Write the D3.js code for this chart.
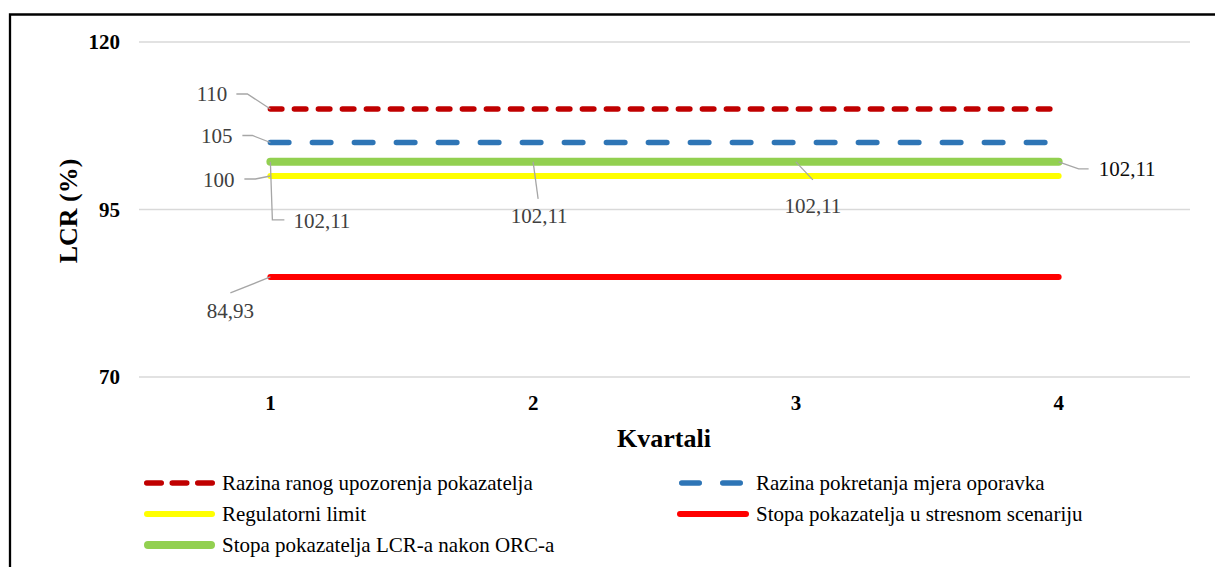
<!DOCTYPE html>
<html>
<head>
<meta charset="utf-8">
<script src="https://cdn.jsdelivr.net/npm/d3@7"></script>
</head>
<body style="margin:0">
<script>
const quarters = [1, 2, 3, 4];
const yTicks = [70, 95, 120];
const earlyWarning = [110, 110, 110, 110];
const recoveryTrigger = [105, 105, 105, 105];
const regulatoryLimit = [100, 100, 100, 100];
const stressRate = [84.93, 84.93, 84.93, 84.93];
const afterOrc = [102.11, 102.11, 102.11, 102.11];

const seriesNames = [
  "Razina ranog upozorenja pokazatelja",
  "Razina pokretanja mjera oporavka",
  "Regulatorni limit",
  "Stopa pokazatelja u stresnom scenariju",
  "Stopa pokazatelja LCR-a nakon ORC-a"
];

const width = 1215;
const height = 567;
const margin = { top: 42, right: 25, bottom: 190, left: 139 };
const fontName = "Liberation Serif";

const svg = d3.select("body").append("svg")
  .attr("width", width)
  .attr("height", height)
  .style("display", "block")
  .attr("font-family", fontName);

function addText(parent) {
  return parent.append("text").attr("font-family", fontName);
}

// outer frame (only left and top visible)
svg.append("path")
  .attr("d", `M10,${height} L10,14.5 L${width},14.5`)
  .attr("fill", "none")
  .attr("stroke", "#000")
  .attr("stroke-width", 2.3);

const x = d3.scaleBand()
  .domain(quarters)
  .range([margin.left, width - margin.right]);

const y = d3.scaleLinear()
  .domain([70, 120])
  .range([height - margin.bottom, margin.top]);

const cx = d => x(d) + x.bandwidth() / 2;

// gridlines
svg.append("g")
  .selectAll("line")
  .data(yTicks)
  .join("line")
  .attr("x1", margin.left)
  .attr("x2", width - margin.right)
  .attr("y1", d => y(d))
  .attr("y2", d => y(d))
  .attr("stroke", "#d9d9d9")
  .attr("stroke-width", 1.5);

// y tick labels
yTicks.forEach(t => {
  addText(svg)
    .attr("x", 120)
    .attr("y", y(t))
    .attr("dy", "0.34em")
    .attr("text-anchor", "end")
    .attr("font-size", 21)
    .attr("font-weight", "bold")
    .text(t);
});

// x tick labels
quarters.forEach(q => {
  addText(svg)
    .attr("x", cx(q))
    .attr("y", 410)
    .attr("text-anchor", "middle")
    .attr("font-size", 21)
    .attr("font-weight", "bold")
    .text(q);
});

addText(svg)
  .attr("x", 664)
  .attr("y", 447)
  .attr("text-anchor", "middle")
  .attr("font-size", 26)
  .attr("font-weight", "bold")
  .text("Kvartali");

addText(svg)
  .attr("transform", "translate(77,211) rotate(-90)")
  .attr("text-anchor", "middle")
  .attr("font-size", 26)
  .attr("font-weight", "bold")
  .text("LCR (%)");

const styles = [
  { values: earlyWarning, color: "#C00000", width: 5.5, dash: "11.5,12.5" },
  { values: recoveryTrigger, color: "#2E75B6", width: 5.5, dash: "18.5,23.5" },
  { values: regulatoryLimit, color: "#FFFF00", width: 6, dash: null },
  { values: stressRate, color: "#FF0000", width: 6, dash: null },
  { values: afterOrc, color: "#92D050", width: 8, dash: null }
];

const line = d3.line()
  .x((d, i) => cx(quarters[i]))
  .y(d => y(d));

styles.forEach(s => {
  svg.append("path")
    .datum(s.values)
    .attr("fill", "none")
    .attr("stroke", s.color)
    .attr("stroke-width", s.width)
    .attr("stroke-linecap", "round")
    .attr("stroke-dasharray", s.dash)
    .attr("d", line);
});

// data labels with leader lines (offsets relative to the point)
const labelColor = "#404040";
const leader = "#a6a6a6";
const fmt = v => String(v).replace(".", ",");

function label(value, px, py, path, tx, ty, anchor, color) {
  svg.append("path")
    .attr("d", d3.line()(path.map(p => [px + p[0], py + p[1]])))
    .attr("fill", "none")
    .attr("stroke", leader)
    .attr("stroke-width", 1.3);
  addText(svg)
    .attr("x", px + tx)
    .attr("y", py + ty)
    .attr("dy", "0.34em")
    .attr("text-anchor", anchor)
    .attr("font-size", 21)
    .attr("fill", color || labelColor)
    .text(fmt(value));
}

const q1 = cx(1);
label(earlyWarning[0], q1, y(earlyWarning[0]), [[0, 0], [-23, -15], [-34, -15]], -43, -15, "end");
label(recoveryTrigger[0], q1, y(recoveryTrigger[0]), [[0, 0], [-18, -7], [-28, -7]], -38, -7, "end");
label(regulatoryLimit[0], q1, y(regulatoryLimit[0]), [[0, 0], [-15, 3], [-26, 3]], -36, 4, "end");
label(afterOrc[0], q1, y(afterOrc[0]), [[0, 0], [2, 58], [14, 58]], 23, 59, "start");
label(afterOrc[1], cx(2), y(afterOrc[1]), [[0, 0], [5, 37]], 6, 54, "middle");
label(afterOrc[2], cx(3), y(afterOrc[2]), [[0, 0], [17, 18]], 17, 44, "middle");
label(afterOrc[3], cx(4), y(afterOrc[3]), [[0, 0], [20, 7], [30, 7]], 40, 7, "start", "#0d0d0d");
label(stressRate[0], q1, y(stressRate[0]), [[0, 0], [-40, 16]], -40, 34, "middle");

// legend
const legendItems = [
  { s: styles[0], name: seriesNames[0], x1: 146.75, x2: 212.25, tx: 222, ly: 483, dash: "14.5,11" },
  { s: styles[1], name: seriesNames[1], x1: 681.75, x2: 740.25, tx: 756, ly: 483, dash: "17.5,23.5" },
  { s: styles[2], name: seriesNames[2], x1: 147, x2: 212, tx: 222, ly: 514 },
  { s: styles[3], name: seriesNames[3], x1: 680, x2: 746, tx: 756, ly: 514 },
  { s: styles[4], name: seriesNames[4], x1: 148, x2: 211, tx: 222, ly: 545 }
];

legendItems.forEach(item => {
  const g = svg.append("g").attr("transform", `translate(0,${item.ly})`);
  g.append("line")
    .attr("x1", item.x1)
    .attr("x2", item.x2)
    .attr("stroke", item.s.color)
    .attr("stroke-width", item.s.width)
    .attr("stroke-linecap", "round")
    .attr("stroke-dasharray", item.dash || null);
  addText(g)
    .attr("x", item.tx)
    .attr("dy", "0.34em")
    .attr("font-size", 21)
    .attr("fill", "#000")
    .text(item.name);
});
</script>
</body>
</html>
